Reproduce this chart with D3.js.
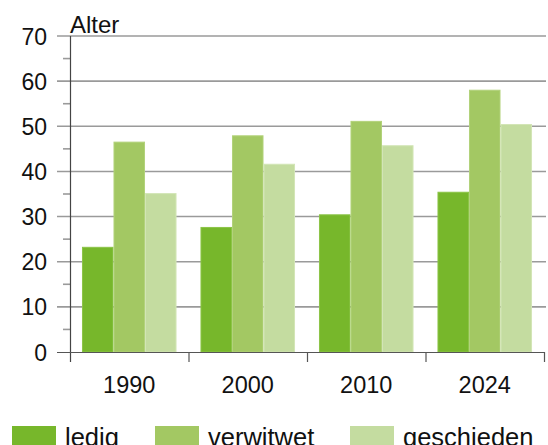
<!DOCTYPE html>
<html><head><meta charset="utf-8">
<script src="https://cdn.jsdelivr.net/npm/d3@7"></script>
<style>body{margin:0;background:#fff}svg{display:block}text{font-family:"Liberation Sans",Arial,sans-serif;fill:#111}</style>
</head><body><svg id="c" width="548" height="445"></svg>
<script>
const years = ["1990","2000","2010","2024"];
const seriesNames = ["ledig","verwitwet","geschieden"];
const ledig = [23.3, 27.7, 30.5, 35.5];
const verwitwet = [46.6, 48.0, 51.2, 58.1];
const geschieden = [35.2, 41.7, 45.8, 50.5];
const yTicks = [0,10,20,30,40,50,60,70];
const colors = ["#77b72b","#a3c863","#c4dca0"];
const edge = ["#8cc447","#b2d27a","#d2e5b6"];
const values = [ledig, verwitwet, geschieden];

const svg = d3.select("#c");
const L = 70, R = 544, T = 36, B = 352;
const x = d3.scaleBand().domain(years).range([L, R]).paddingInner(0).paddingOuter(0);
const xs = d3.scaleBand().domain(seriesNames).range([0, x.bandwidth()]).paddingInner(0).paddingOuter(0.38);
const y = d3.scaleLinear().domain([0, 70]).range([B, T]);

// gridlines
svg.append("g").selectAll("line").data(yTicks.filter(d=>d>0)).join("line")
  .attr("x1", 57).attr("x2", 546).attr("y1", d=>y(d)).attr("y2", d=>y(d))
  .attr("stroke", "#9a9a9a").attr("stroke-width", 1.6);

// bars
seriesNames.forEach((s, si) => {
  svg.append("g").selectAll("rect").data(years).join("rect")
    .attr("x", d => x(d) + xs(s) + 0.5)
    .attr("y", (d, i) => y(values[si][i]) + 0.5)
    .attr("width", xs.bandwidth() - 1)
    .attr("height", (d, i) => B - y(values[si][i]) - 0.5)
    .attr("fill", colors[si]).attr("stroke", edge[si]).attr("stroke-width", 1);
});

// minor ticks on y-axis
svg.append("g").selectAll("line").data([5,15,25,35,45,55,65]).join("line")
  .attr("x1", 63).attr("x2", 70).attr("y1", d=>y(d)).attr("y2", d=>y(d))
  .attr("stroke", "#9a9a9a").attr("stroke-width", 1.6);

// y axis line
svg.append("line").attr("x1", 70.5).attr("x2", 70.5).attr("y1", y(70)).attr("y2", 362)
  .attr("stroke", "#444").attr("stroke-width", 1.2);
// x axis
svg.append("line").attr("x1", 57).attr("x2", 545).attr("y1", B + 0.5).attr("y2", B + 0.5)
  .attr("stroke", "#555").attr("stroke-width", 1.2);
const catEdges = years.map(d => x(d)).slice(1).concat([R]);
svg.append("g").selectAll("line").data(catEdges).join("line")
  .attr("x1", d=>d + 0.5).attr("x2", d=>d + 0.5).attr("y1", B).attr("y2", 362)
  .attr("stroke", "#555").attr("stroke-width", 1.2);

// y labels
svg.append("g").selectAll("text").data(yTicks).join("text")
  .attr("x", 47).attr("y", d => y(d) + 8.5).attr("text-anchor", "end")
  .attr("font-size", 23).text(d => d);
// x labels
svg.append("g").selectAll("text").data(years).join("text")
  .attr("x", d => x(d) + x.bandwidth()/2).attr("y", 393).attr("text-anchor", "middle")
  .attr("font-size", 23.5).text(d => d);

svg.append("text").attr("x", 70).attr("y", 33).attr("font-size", 24).text("Alter");

// legend
const legX = [12, 155, 350];
const lg = svg.append("g").selectAll("g").data(seriesNames).join("g")
  .attr("transform", (d,i) => `translate(${legX[i]},426)`);
lg.append("rect").attr("width", 44).attr("height", 22).attr("fill", (d,i)=>colors[i]);
lg.append("text").attr("x", 53).attr("y", 19.5).attr("font-size", 25.5).text(d => d);
</script></body></html>
